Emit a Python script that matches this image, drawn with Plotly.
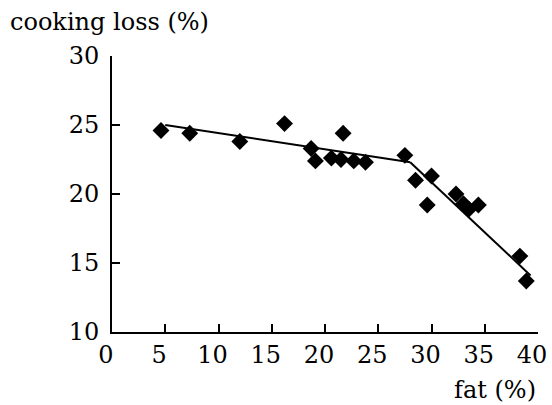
import plotly.graph_objects as go

fat = [4.6, 7.3, 12.0, 16.2, 18.7, 19.1, 20.6, 21.5, 21.7, 22.7, 23.8,
       27.5, 28.5, 30.0, 29.6, 32.3, 33.0, 33.5, 34.4, 38.3, 38.9]
loss = [24.6, 24.4, 23.8, 25.1, 23.3, 22.4, 22.6, 22.5, 24.4, 22.4, 22.3,
        22.8, 21.0, 21.3, 19.2, 20.0, 19.3, 18.9, 19.2, 15.5, 13.7]

fit1_x = [5.0, 28.0]
fit1_y = [25.0, 22.3]
fit2_x = [28.0, 39.3]
fit2_y = [22.3, 14.1]

x_ticks = [0, 5, 10, 15, 20, 25, 30, 35, 40]
y_ticks = [10, 15, 20, 25, 30]

FONT = "DejaVu Serif"

fig = go.Figure()
fig.add_trace(go.Scatter(x=fit1_x, y=fit1_y, mode="lines",
                         line=dict(color="black", width=2), showlegend=False))
fig.add_trace(go.Scatter(x=fit2_x, y=fit2_y, mode="lines",
                         line=dict(color="black", width=2), showlegend=False))
fig.add_trace(go.Scatter(x=fat, y=loss, mode="markers",
                         marker=dict(symbol="diamond", size=13, color="black"),
                         showlegend=False, cliponaxis=False))

fig.update_layout(
    width=552, height=405,
    margin=dict(l=112, r=14, t=56, b=73, autoexpand=False),
    plot_bgcolor="white", paper_bgcolor="white",
    font=dict(family=FONT, size=24, color="black"),
    xaxis=dict(range=[0, 40], tickvals=x_ticks, showgrid=False, zeroline=False,
               showline=True, linecolor="black", linewidth=2,
               ticks="inside", ticklen=8, tickwidth=2, tickcolor="black",
               ticklabelshift=-6, automargin=False),
    yaxis=dict(range=[10, 30], tickvals=y_ticks, showgrid=False, zeroline=False,
               showline=True, linecolor="black", linewidth=2,
               ticks="inside", ticklen=8, tickwidth=2, tickcolor="black",
               ticklabelstandoff=6, automargin=False),
    annotations=[
        dict(text="cooking loss (%)", xref="paper", yref="paper",
             x=-0.245, y=1.125, xanchor="left", yanchor="middle",
             showarrow=False),
        dict(text="fat (%)", xref="paper", yref="paper",
             x=1.0, y=-0.21, xanchor="right", yanchor="middle",
             showarrow=False),
    ],
)

fig.write_html("out.html")
